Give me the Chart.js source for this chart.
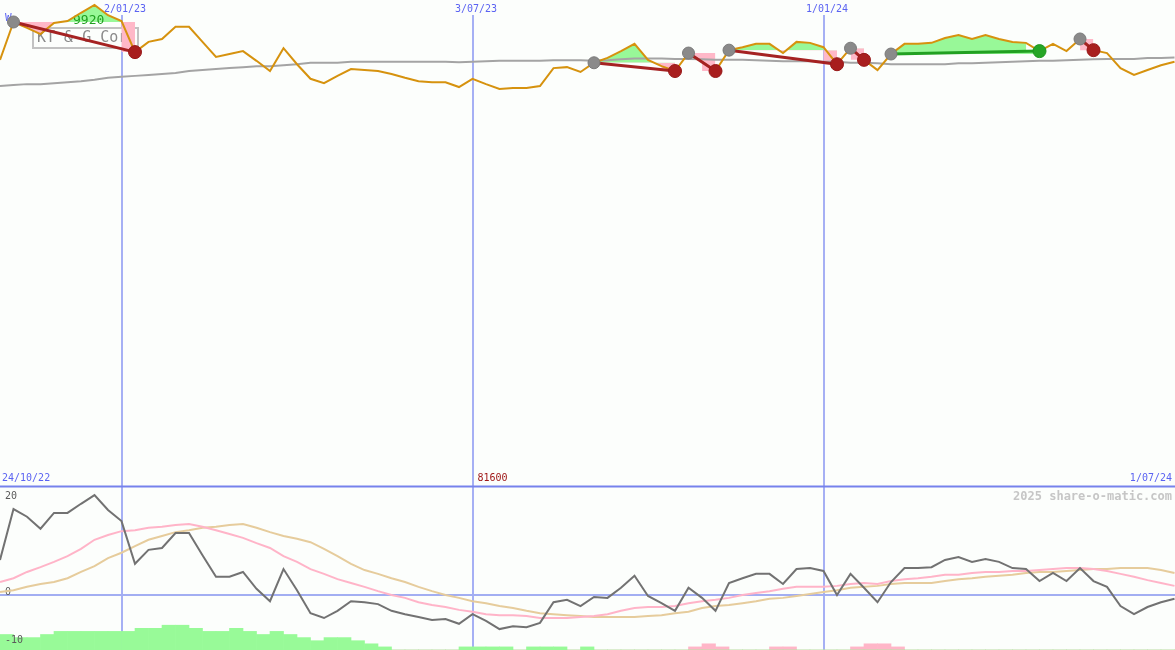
<!DOCTYPE html>
<html>
<head>
<meta charset="utf-8">
<title>KT &amp; G Corp weekly</title>
<script src="https://cdn.jsdelivr.net/npm/chart.js@4.4.1/dist/chart.umd.min.js"></script>
<style>
    html, body { margin: 0; padding: 0; background: #fcfefc; }
    #wrap { width: 1175px; height: 650px; }
</style>
</head>
<body>
<div id="wrap"><canvas id="chart" width="1175" height="650"></canvas></div>
<script>
// weekly closes, one entry per week starting 31/10/22
const price = [8790, 9570, 9450, 9320, 9550, 9590, 9760, 9920, 9710, 9590,
    8950, 9160, 9220, 9470, 9470, 9160, 8850, 8910, 8970, 8770,
    8560, 9030, 8700, 8400, 8310, 8460, 8600, 8580, 8560, 8500,
    8420, 8350, 8330, 8330, 8230, 8400, 8290, 8190, 8210, 8210,
    8250, 8620, 8640, 8540, 8730, 8830, 8970, 9120, 8790, 8660,
    8560, 8930, 8750, 8560, 8990, 9050, 9120, 9120, 8930, 9160,
    9140, 9050, 8700, 9030, 8790, 8580, 8910, 9120, 9120, 9140,
    9240, 9300, 9220, 9300, 9220, 9160, 9140, 8970, 9120, 8970,
    9220, 8990, 8930, 8620, 8480, 8580, 8680, 8750];

const movingAvg = [8250, 8270, 8290, 8290, 8310, 8330, 8350, 8380, 8420, 8440,
    8460, 8480, 8500, 8520, 8560, 8580, 8600, 8620, 8640, 8660,
    8660, 8680, 8700, 8730, 8730, 8730, 8750, 8750, 8750, 8750,
    8750, 8750, 8750, 8750, 8740, 8750, 8760, 8770, 8770, 8770,
    8770, 8780, 8780, 8780, 8770, 8780, 8800, 8820, 8820, 8820,
    8810, 8810, 8800, 8790, 8790, 8790, 8780, 8770, 8760, 8760,
    8760, 8750, 8750, 8730, 8730, 8720, 8700, 8700, 8700, 8700,
    8700, 8720, 8720, 8730, 8740, 8750, 8760, 8770, 8770, 8780,
    8790, 8800, 8810, 8810, 8810, 8830, 8830, 8840];

// lower panel
const momentum = [7.3, 17.9, 16.3, 13.8, 17.1, 17.1, 19.0, 20.8, 17.7, 15.4,
    6.5, 9.4, 9.8, 12.9, 12.9, 8.3, 3.8, 3.8, 4.8, 1.3,
    -1.3, 5.4, 1.0, -3.8, -4.8, -3.3, -1.3, -1.5, -1.9, -3.3,
    -4.0, -4.6, -5.2, -5.0, -6.0, -4.0, -5.4, -7.1, -6.5, -6.7,
    -5.8, -1.5, -1.0, -2.3, -0.4, -0.6, 1.5, 4.0, -0.2, -1.7,
    -3.3, 1.5, -0.6, -3.3, 2.5, 3.5, 4.4, 4.4, 2.3, 5.4,
    5.6, 5.0, 0.0, 4.4, 1.5, -1.5, 2.7, 5.6, 5.6, 5.8,
    7.3, 7.9, 6.9, 7.5, 6.9, 5.6, 5.4, 2.9, 4.6, 2.9,
    5.6, 2.9, 1.7, -2.3, -4.0, -2.5, -1.5, -0.8];

const signalFast = [2.7, 3.5, 4.8, 5.8, 6.9, 8.1, 9.6, 11.5, 12.5, 13.3,
    13.5, 14.0, 14.2, 14.6, 14.8, 14.2, 13.5, 12.7, 11.9, 10.8,
    9.8, 8.1, 6.9, 5.4, 4.4, 3.3, 2.5, 1.7, 0.8, 0.0,
    -0.6, -1.5, -2.1, -2.5, -3.1, -3.5, -4.0, -4.2, -4.2, -4.4,
    -4.8, -4.8, -4.8, -4.6, -4.4, -4.0, -3.3, -2.7, -2.5, -2.5,
    -2.3, -1.7, -1.3, -1.0, -0.6, 0.0, 0.4, 0.8, 1.3, 1.7,
    1.7, 1.7, 1.9, 2.3, 2.5, 2.3, 2.9, 3.3, 3.5, 3.8,
    4.2, 4.2, 4.6, 4.8, 4.8, 5.0, 5.0, 5.2, 5.4, 5.6,
    5.6, 5.4, 5.0, 4.4, 3.8, 3.1, 2.5, 1.9];

const signalSlow = [0.6, 1.0, 1.7, 2.3, 2.7, 3.5, 4.8, 6.0, 7.7, 8.8,
    10.2, 11.5, 12.3, 13.1, 13.5, 14.0, 14.2, 14.6, 14.8, 14.0,
    13.1, 12.3, 11.7, 11.0, 9.6, 8.1, 6.5, 5.2, 4.4, 3.5,
    2.7, 1.7, 0.8, 0.0, -0.6, -1.3, -1.7, -2.3, -2.7, -3.3,
    -3.8, -4.0, -4.2, -4.4, -4.6, -4.6, -4.6, -4.6, -4.4, -4.2,
    -3.8, -3.5, -2.7, -2.3, -2.1, -1.7, -1.3, -0.8, -0.6, -0.2,
    0.2, 0.6, 1.0, 1.5, 1.7, 1.9, 2.3, 2.5, 2.5, 2.5,
    2.9, 3.3, 3.5, 3.8, 4.0, 4.2, 4.6, 4.8, 4.8, 5.0,
    5.2, 5.4, 5.4, 5.6, 5.6, 5.6, 5.2, 4.6];

const histUp = [5, 4, 4, 5, 6, 6, 6, 6, 6, 6,
    7, 7, 8, 8, 7, 6, 6, 7, 6, 5,
    6, 5, 4, 3, 4, 4, 3, 2, 1, 0,
    0, 0, 0, 0, 1, 1, 1, 1, 0, 1,
    1, 1, 0, 1, 0, 0, 0, 0, 0, 0,
    0, 0, 0, 0, 0, 0, 0, 0, 0, 0,
    0, 0, 0, 0, 0, 0, 0, 0, 0, 0,
    0, 0, 0, 0, 0, 0, 0, 0, 0, 0,
    0, 0, 0, 0, 0, 0, 0, 0];

const histDown = [0, 0, 0, 0, 0, 0, 0, 0, 0, 0,
    0, 0, 0, 0, 0, 0, 0, 0, 0, 0,
    0, 0, 0, 0, 0, 0, 0, 0, 0, 0,
    0, 0, 0, 0, 0, 0, 0, 0, 0, 0,
    0, 0, 0, 0, 0, 0, 0, 0, 0, 0,
    0, 1, 2, 1, 0, 0, 0, 1, 1, 0,
    0, 0, 0, 1, 2, 2, 1, 0, 0, 0,
    0, 0, 0, 0, 0, 0, 0, 0, 0, 0,
    0, 0, 0, 0, 0, 0, 0, 0];

// trades: week index of entry and exit
const tradeEntry = [1, 44, 51, 54, 63, 66, 80];
const tradeExit = [10, 50, 53, 62, 64, 77, 81];

const dateWeeks = [9, 35, 61];
const dateLabels = ['2/01/23', '3/07/23', '1/01/24'];
const oscTicks = [20, 0, -10];
const oscPanelTop = 22.6;

const GREEN_FILL = '#98f898';
const PINK_FILL = '#ffb8c8';
const BLUE_TEXT = '#5b63f2';
const MONO = '"DejaVu Sans Mono", monospace';

const pts = arr => arr.map((v, i) => ({ x: i, y: v }));

function tradeFill(t) {
    const e0 = tradeEntry[t], e1 = tradeExit[t];
    const out = [];
    for (let i = e0; i < e1; i++) out.push({ x: i, y: price[i] });
    // last week filled as a step to the exit close
    out.push({ x: e1 - 1 + 0.01, y: price[e1] });
    out.push({ x: e1, y: price[e1] });
    return out;
}

const datasets = [];

datasets.push({
    type: 'bar', data: histUp.map((v, i) => ({ x: i + 0.5, y: v })),
    backgroundColor: '#98fa98', yAxisID: 'yHist', grouped: false,
    barPercentage: 1, categoryPercentage: 1, borderWidth: 0, order: 30
});
datasets.push({
    type: 'bar', data: histDown.map((v, i) => ({ x: i + 0.5, y: v })),
    backgroundColor: '#ffb6c8', yAxisID: 'yHist', grouped: false,
    barPercentage: 1, categoryPercentage: 1, borderWidth: 0, order: 30
});

tradeEntry.forEach((e0, t) => {
    datasets.push({
        data: tradeFill(t), yAxisID: 'yPrice', borderWidth: 0, pointRadius: 0,
        fill: { target: { value: price[e0] }, above: GREEN_FILL, below: PINK_FILL },
        order: 20
    });
});

// labels go on top of bars and fills, under the lines
datasets.push({ data: pts(movingAvg), yAxisID: 'yPrice', borderColor: '#a4a4a4', borderWidth: 2, pointRadius: 0, order: 12, labelsBefore: true });
datasets.push({ data: pts(signalSlow), yAxisID: 'yOsc', borderColor: '#e6cc9c', borderWidth: 2, pointRadius: 0, order: 11 });
datasets.push({ data: pts(signalFast), yAxisID: 'yOsc', borderColor: '#ffb4c8', borderWidth: 2, pointRadius: 0, order: 10 });
datasets.push({ data: pts(momentum), yAxisID: 'yOsc', borderColor: '#727272', borderWidth: 2, pointRadius: 0, order: 9 });
datasets.push({ data: pts(price), yAxisID: 'yPrice', borderColor: '#d6920e', borderWidth: 2, pointRadius: 0, order: 8 });

tradeEntry.forEach((e0, t) => {
    const e1 = tradeExit[t];
    const win = price[e1] > price[e0];
    datasets.push({
        data: [{ x: e0, y: price[e0] }, { x: e1, y: price[e1] }], yAxisID: 'yPrice',
        borderColor: win ? '#22a022' : '#a52222', borderWidth: 3, pointRadius: 0, order: 6
    });
});

datasets.push({
    data: tradeEntry.map(i => ({ x: i, y: price[i] })), yAxisID: 'yPrice', showLine: false,
    pointRadius: 6, pointBackgroundColor: '#8a8a8a', pointBorderColor: '#7a7a7a', pointBorderWidth: 1, order: 4
});
datasets.push({
    data: tradeExit.map((i, t) => ({ x: i, y: price[i], win: price[i] > price[tradeEntry[t]] })),
    yAxisID: 'yPrice', showLine: false, pointRadius: 6.5, pointBorderWidth: 1,
    pointBackgroundColor: ctx => ctx.raw && ctx.raw.win ? '#26a626' : '#a81e1e',
    pointBorderColor: ctx => ctx.raw && ctx.raw.win ? '#1e961e' : '#981818',
    order: 3
});

function text(ctx, s, x, y, color, font, align, base) {
    ctx.fillStyle = color;
    ctx.font = font;
    ctx.textAlign = align || 'left';
    ctx.textBaseline = base || 'middle';
    ctx.fillText(s, x, y);
}

const decor = {
    id: 'decor',
    beforeDraw(chart) {
        const ctx = chart.ctx;
        ctx.save();
        ctx.fillStyle = '#fcfefc';
        ctx.fillRect(0, 0, chart.width, chart.height);
        ctx.restore();
    },
    beforeDatasetsDraw(chart) {
        const { ctx, chartArea } = chart;
        const xs = chart.scales.x, yo = chart.scales.yOsc;
        ctx.save();

        // week markers
        ctx.strokeStyle = '#a6b0f4';
        ctx.lineWidth = 2;
        dateWeeks.forEach((w, k) => {
            const px = Math.round(xs.getPixelForValue(w));
            ctx.beginPath();
            ctx.moveTo(px, 15);
            ctx.lineTo(px, chartArea.bottom);
            ctx.stroke();
            text(ctx, dateLabels[k], px + 3, 9, BLUE_TEXT, '10px ' + MONO, 'center');
        });

        // panel separator and zero line
        const sepY = yo.getPixelForValue(oscPanelTop);
        ctx.strokeStyle = '#7682ec';
        ctx.beginPath(); ctx.moveTo(0, sepY); ctx.lineTo(chartArea.right, sepY); ctx.stroke();
        const zeroY = yo.getPixelForValue(0);
        ctx.strokeStyle = '#a2aef2';
        ctx.beginPath(); ctx.moveTo(0, zeroY); ctx.lineTo(chartArea.right, zeroY); ctx.stroke();

        text(ctx, '24/10/22', 2, sepY - 8, BLUE_TEXT, '10px ' + MONO);
        text(ctx, '1/07/24', chartArea.right - 3, sepY - 8, BLUE_TEXT, '10px ' + MONO, 'right');
        text(ctx, '81600', xs.getPixelForValue(dateWeeks[1]) + 5, sepY - 8, '#a01818', '10px ' + MONO);
        text(ctx, '2025 share-o-matic.com', chartArea.right - 3, sepY + 10, '#c6c6c6', 'bold 12px ' + MONO, 'right');

        // name box
        text(ctx, 'W', 5, 18, BLUE_TEXT, '11px ' + MONO);
        ctx.fillStyle = 'rgba(252,254,252,0.9)';
        ctx.fillRect(33, 28, 105, 20);
        ctx.strokeStyle = '#c2c2c2';
        ctx.lineWidth = 2;
        ctx.strokeRect(33, 28, 105, 20);
        ctx.beginPath(); ctx.rect(34, 29, 103, 18); ctx.clip();
        text(ctx, 'KT & G Cor', 37, 38.5, '#8a8a8a', '15px ' + MONO);
        ctx.restore();
    },
    beforeDatasetDraw(chart, args) {
        if (!chart.data.datasets[args.index].labelsBefore) return;
        const ctx = chart.ctx, yo = chart.scales.yOsc;
        ctx.save();
        text(ctx, '9920', 73, 21, '#20a020', '13px ' + MONO);
        oscTicks.forEach(v => {
            text(ctx, String(v), 5, yo.getPixelForValue(v) + 2, '#5a5a5a', '10px ' + MONO, 'left', 'bottom');
        });
        ctx.restore();
    }
};

new Chart(document.getElementById('chart'), {
    type: 'line',
    data: { datasets },
    options: {
        responsive: false,
        animation: false,
        devicePixelRatio: 1,
        events: [],
        layout: { autoPadding: false, padding: 0 },
        elements: { line: { tension: 0 } },
        plugins: { legend: { display: false }, tooltip: { enabled: false } },
        scales: {
            x: { type: 'linear', min: 0, max: 87.037, offset: false, display: false },
            yPrice: { type: 'linear', min: -3367, max: 10023, display: false },
            yOsc: { type: 'linear', min: -11.46, max: 123.96, display: false },
            yHist: { type: 'linear', min: 0, max: 209.7, display: false }
        }
    },
    plugins: [decor]
});
</script>
</body>
</html>
